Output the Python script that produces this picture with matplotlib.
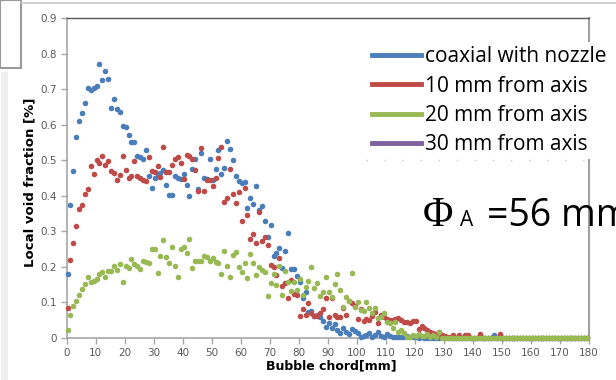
import matplotlib
matplotlib.use('Agg')
import matplotlib.pyplot as plt
from matplotlib.lines import Line2D
from matplotlib.patches import Rectangle
import numpy as np

# bubble chord bins [mm]
chord = np.arange(180) + 0.3

coaxial = [
    0.18, 0.375, 0.47, 0.565, 0.61, 0.632, 0.662, 0.705, 0.697, 0.703,
    0.71, 0.77, 0.725, 0.753, 0.73, 0.648, 0.673, 0.645, 0.635, 0.598,
    0.595, 0.572, 0.552, 0.552, 0.513, 0.51, 0.505, 0.53, 0.455, 0.423,
    0.45, 0.457, 0.465, 0.473, 0.432, 0.403, 0.402, 0.455, 0.45, 0.447,
    0.463, 0.43, 0.40, 0.475, 0.505, 0.42, 0.52, 0.45, 0.448, 0.503,
    0.444, 0.475, 0.528, 0.462, 0.478, 0.555, 0.532, 0.50, 0.455, 0.443,
    0.437, 0.44, 0.365, 0.395, 0.378, 0.427, 0.36, 0.372, 0.33, 0.284,
    0.317, 0.231, 0.239, 0.253, 0.196, 0.246, 0.295, 0.193, 0.193, 0.175,
    0.159, 0.112, 0.13, 0.074, 0.076, 0.062, 0.065, 0.06, 0.048, 0.03,
    0.041, 0.027, 0.039, 0.023, 0.015, 0.027, 0.018, 0.011, 0.024, 0.02,
    0.015, 0.002, 0.006, 0.008, 0.015, 0.002, 0.008, 0.018, 0.005, 0.004,
    0.01, 0.006, 0.004, 0.004, 0.004, 0.003, 0.004, 0.005, 0.003, 0.002,
    0.002, 0, 0.002, 0, 0, 0, 0, 0, 0, 0.008,
    0, 0, 0, 0, 0, 0, 0, 0, 0, 0,
    0, 0, 0, 0, 0, 0, 0, 0.008, 0, 0,
    0, 0, 0, 0, 0, 0, 0, 0, 0, 0,
    0, 0, 0, 0, 0, 0, 0, 0, 0, 0,
    0, 0, 0, 0, 0, 0, 0, 0, 0, 0,
]

off10 = [
    0.085, 0.22, 0.268, 0.315, 0.362, 0.375, 0.406, 0.419, 0.485, 0.462,
    0.50, 0.494, 0.513, 0.487, 0.498, 0.471, 0.464, 0.445, 0.459, 0.513,
    0.473, 0.45, 0.456, 0.498, 0.456, 0.45, 0.445, 0.443, 0.509, 0.47,
    0.466, 0.485, 0.454, 0.539, 0.466, 0.466, 0.488, 0.503, 0.51, 0.494,
    0.447, 0.515, 0.511, 0.503, 0.474, 0.415, 0.536, 0.414, 0.445, 0.445,
    0.428, 0.45, 0.506, 0.539, 0.384, 0.393, 0.475, 0.406, 0.379, 0.412,
    0.33, 0.422, 0.346, 0.278, 0.293, 0.267, 0.356, 0.274, 0.285, 0.262,
    0.206, 0.199, 0.177, 0.225, 0.146, 0.156, 0.112, 0.163, 0.124, 0.121,
    0.062, 0.081, 0.065, 0.099, 0.071, 0.062, 0.062, 0.07, 0.081, 0.112,
    0.06, 0.112, 0.065, 0.06, 0.058, 0.084, 0.065, 0.105, 0.098, 0.09,
    0.053, 0.082, 0.049, 0.053, 0.05, 0.062, 0.073, 0.043, 0.065, 0.058,
    0.053, 0.051, 0.05, 0.053, 0.055, 0.05, 0.046, 0.045, 0.043, 0.049,
    0.049, 0.024, 0.034, 0.028, 0.023, 0.018, 0.015, 0.01, 0.018, 0.008,
    0.005, 0.004, 0.003, 0.008, 0, 0.008, 0, 0.008, 0.008, 0,
    0, 0, 0.012, 0, 0, 0, 0, 0, 0, 0.01,
    0, 0, 0, 0, 0, 0, 0, 0, 0, 0,
    0, 0, 0, 0, 0, 0, 0, 0, 0, 0,
    0, 0, 0, 0, 0, 0, 0, 0, 0, 0,
]

off20 = [
    0.023, 0.064, 0.09, 0.104, 0.121, 0.139, 0.151, 0.171, 0.158, 0.161,
    0.165, 0.179, 0.187, 0.173, 0.19, 0.189, 0.203, 0.192, 0.208, 0.157,
    0.203, 0.198, 0.223, 0.208, 0.204, 0.195, 0.218, 0.213, 0.21, 0.251,
    0.251, 0.182, 0.232, 0.276, 0.227, 0.21, 0.255, 0.204, 0.173, 0.251,
    0.257, 0.24, 0.278, 0.196, 0.217, 0.217, 0.217, 0.231, 0.229, 0.218,
    0.224, 0.215, 0.21, 0.179, 0.246, 0.203, 0.173, 0.234, 0.243, 0.199,
    0.185, 0.21, 0.17, 0.236, 0.212, 0.177, 0.199, 0.192, 0.187, 0.118,
    0.156, 0.179, 0.149, 0.203, 0.121, 0.19, 0.159, 0.132, 0.159, 0.135,
    0.165, 0.121, 0.143, 0.161, 0.199, 0.14, 0.156, 0.118, 0.13, 0.173,
    0.13, 0.115, 0.152, 0.18, 0.135, 0.088, 0.116, 0.105, 0.182, 0.088,
    0.102, 0.079, 0.077, 0.102, 0.084, 0.07, 0.084, 0.055, 0.06, 0.07,
    0.046, 0.041, 0.027, 0.046, 0.018, 0.023, 0.015, 0.004, 0.002, 0.008,
    0.006, 0.011, 0.006, 0.006, 0.011, 0.004, 0.008, 0.002, 0.018, 0,
    0, 0, 0, 0, 0, 0, 0, 0, 0, 0,
    0, 0, 0, 0, 0, 0, 0, 0, 0, 0,
    0, 0, 0, 0, 0, 0, 0, 0, 0, 0,
    0, 0, 0, 0, 0, 0, 0, 0, 0, 0,
    0, 0, 0, 0, 0, 0, 0, 0, 0, 0,
]

labels = ['coaxial with nozzle', '10 mm from axis', '20 mm from axis', '30 mm from axis']
colors = ['#4a7ebb', '#be4b48', '#98b954', '#7f63a1']
xticks = np.arange(0, 181, 10)
yticks = [0, 0.1, 0.2, 0.3, 0.4, 0.5, 0.6, 0.7, 0.8, 0.9]
ytick_labels = ['0', '0.1', '0.2', '0.3', '0.4', '0.5', '0.6', '0.7', '0.8', '0.9']

W, H = 616, 380


def fx(px):
    return px / W


def fy(py):
    return 1 - py / H


fig = plt.figure(figsize=(W / 100, H / 100), dpi=100)

# page decorations around the chart
fig.add_artist(Line2D([fx(21), 1], [fy(3), fy(3)], color='#c8c8c8', lw=1.2))
fig.add_artist(Rectangle((0, fy(68)), fx(21), 68 / H, facecolor='white',
                         edgecolor='#9a9a9a', lw=1.5))
fig.add_artist(Line2D([fx(4), fx(4)], [fy(75), 0], color='#efefef', lw=5))

ax = fig.add_axes([fx(66.7), fy(338), fx(589 - 66.7), (338 - 18.3) / H])
for y, c in zip([coaxial, off10, off20], colors):
    ax.scatter(chord, y, s=16, color=c, linewidths=0, clip_on=False, zorder=3)

ax.set_xlim(0, 180)
ax.set_ylim(0, 0.9)
ax.set_xticks(xticks)
ax.set_yticks(yticks)
ax.set_yticklabels(ytick_labels)
ax.tick_params(direction='out', length=4, width=1, color='#a6a6a6',
               labelsize=7.5, labelcolor='#595959', pad=3)
ax.spines['top'].set_color('#5a5a5a')
ax.spines['top'].set_linewidth(1.0)
ax.spines['right'].set_color('#a0a0a0')
ax.spines['right'].set_linewidth(1.5)
for s in ['left', 'bottom']:
    ax.spines[s].set_color('#a6a6a6')
    ax.spines[s].set_linewidth(1.2)

fig.text(fx(30), fy(182), 'Local void fraction [%]', rotation=90, ha='center',
         va='center', fontsize=9.5, fontweight='bold')
fig.text(fx(331), fy(366), 'Bubble chord[mm]', ha='center', va='center',
         fontsize=9, fontweight='bold')

handles = [Line2D([], [], color=c, lw=3.5) for c in colors]
fig.legend(handles, labels, loc='upper left', bbox_to_anchor=(fx(368), fy(42)),
           frameon=True, facecolor='white', edgecolor='none', framealpha=1,
           handlelength=2.35, handletextpad=0.2, labelspacing=0.4,
           borderpad=0.2, borderaxespad=0, prop={'family': 'Open Sans', 'size': 15})
fig.add_artist(Line2D([fx(366), fx(589)], [fy(160), fy(160)], color='#c8c8c8',
                      lw=1, ls=(0, (1, 12))))

fig.text(fx(423), fy(226), 'Φ', family='Liberation Serif', fontsize=30, va='baseline')
fig.text(fx(460), fy(226), 'A', family='Open Sans', fontsize=15, va='baseline')
fig.text(fx(487), fy(226), '=56 mm', family='Open Sans', fontsize=27, va='baseline')

fig.savefig('out.png', dpi=100)
